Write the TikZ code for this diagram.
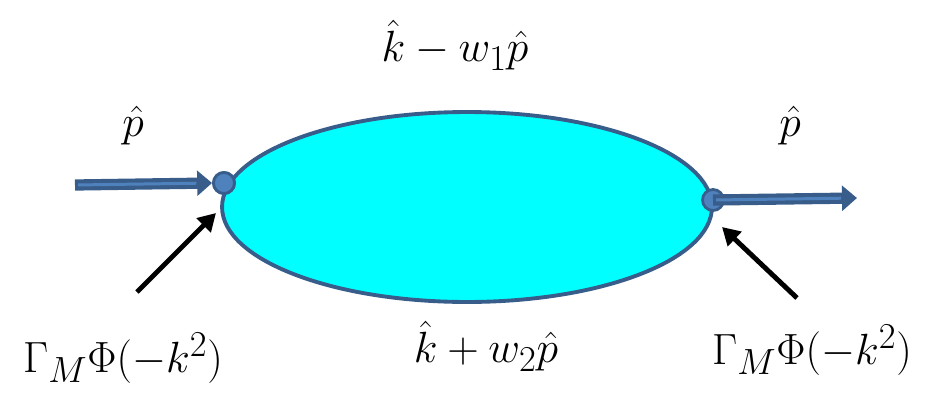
\documentclass[tikz,border=0pt]{standalone}
\usepackage{amsmath}
\usetikzlibrary{shapes.geometric, positioning, arrows.meta}
\definecolor{rimblue}{RGB}{56,93,138}
\definecolor{dotblue}{RGB}{79,129,189}
\definecolor{bubblecyan}{RGB}{0,255,255}

\begin{document}
\begin{tikzpicture}[
    x=0.02cm, y=-0.02cm,
    bubble/.style={ellipse, draw=rimblue, line width=2.2pt, fill=bubblecyan, minimum width=9.8cm, minimum height=3.8cm},
    vertex/.style={circle, draw=rimblue, line width=1.6pt, fill=dotblue, minimum size=0.42cm, inner sep=0pt},
    feed/.style={draw=rimblue, line width=6.4pt, -{Triangle[width=14pt, length=8.5pt]}},
    feedcore/.style={draw=dotblue, line width=1.7pt, shorten <=1.8pt, shorten >=9pt},
    pointer/.style={draw, line width=2.8pt, -{Triangle[width=11pt, length=10pt]}},
    lbl/.style={font=\fontsize{30}{36}\selectfont}
]
    \useasboundingbox (0,0) rectangle (930,396);

    % Loop and vertices
    \node[bubble] (loop) at (467,207) {};
    \node[vertex] (ldot) at (224,183) {};
    \node[vertex] (rdot) at (713,200) {};

    % Momentum labels
    \node[lbl] (ptop) at (455,45) {$\hat{k} - w_1\hat{p}$};
    \node[lbl] (pbot) at (486,346) {$\hat{k} + w_2\hat{p}$};
    \node[lbl] (pin) at (133,126) {$\hat{p}$};
    \node[lbl] (pout) at (790,126) {$\hat{p}$};
    \node[lbl] (gleft) at (123,358) {$\Gamma_M\Phi(-k^2)$};
    \node[lbl] (gright) at (812,350) {$\Gamma_M\Phi(-k^2)$};

    % External lines
    \coordinate (inend) at (75,185);
    \coordinate (outend) at (857,198);
    \draw[feed] (inend) -- (ldot.west);
    \draw[feedcore] (inend) -- (ldot.west);
    \node[vertex] at (ldot) {};
    \draw[feed] (rdot.center) -- (outend);
    \draw[feedcore] (rdot.center) -- (outend);

    % Vertex pointers
    \coordinate (ltail) at (137,292);
    \coordinate (ltip) at (216,213);
    \coordinate (rtail) at (797,298);
    \coordinate (rtip) at (722,227);
    \draw[pointer] (ltail) -- (ltip);
    \draw[pointer] (rtail) -- (rtip);
\end{tikzpicture}
\end{document}
